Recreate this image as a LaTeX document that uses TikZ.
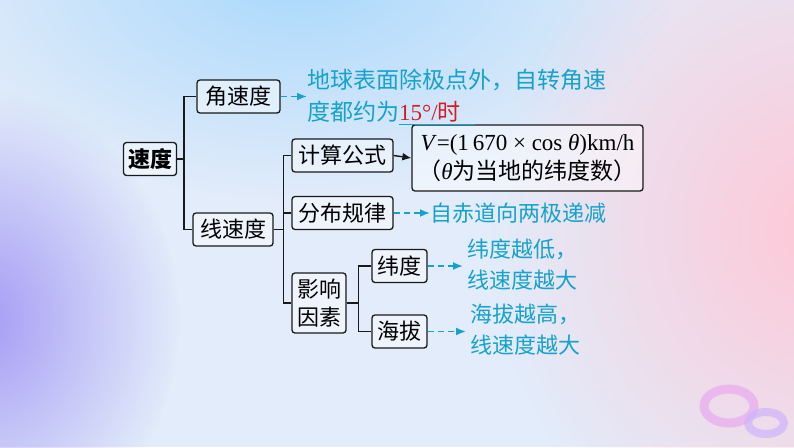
\documentclass[tikz,border=0pt]{standalone}
\usepackage{fontspec}
\setmainfont{Liberation Serif}
\newfontfamily\cjk{Noto Sans CJK SC}
\usetikzlibrary{
  arrows.meta,
  fadings
}
\definecolor{notecol}{RGB}{22,162,205}
\definecolor{redcol}{RGB}{215,25,40}
\definecolor{ringa}{RGB}{232,170,240}
\definecolor{ringb}{RGB}{205,180,250}
\definecolor{bgbase}{RGB}{226,236,250}
\definecolor{bgsky}{RGB}{168,216,252}
\definecolor{bgviolet}{RGB}{165,155,245}
\definecolor{bgpink}{RGB}{255,200,215}
\tikzfading[name=blobfade, inner color=transparent!0, outer color=transparent!100]

\begin{document}
\begin{tikzpicture}[
  x=1pt, y=-1pt,
  box/.style={draw=black!90, line width=1.3pt, rounded corners=3pt,
    fill=white, fill opacity=0.45, text opacity=1,
    font=\cjk\fontsize{22}{26}\selectfont, inner sep=2pt, minimum height=33},
  note/.style={anchor=west, text=notecol, align=left,
    font=\cjk\fontsize{22}{31}\selectfont, inner sep=0pt},
  branch/.style={line width=1.4pt, black!90},
  dashlink/.style={-{Latex[length=10pt,width=8pt]}, dash pattern=on 6pt off 4pt,
    notecol, line width=1.8pt},
]
\useasboundingbox (0,0) rectangle (794,447);
\fill[bgbase] (0,0) rectangle (794,447);
\fill[bgsky, path fading=blobfade] (300,-30) ellipse (380 and 230);
\fill[bgviolet, path fading=blobfade] (-20,320) ellipse (200 and 230);
\fill[bgpink, path fading=blobfade] (820,230) ellipse (330 and 360);
\draw[ringa, opacity=0.7, line width=9pt] (729,406) ellipse (25 and 17);
\draw[ringb, opacity=0.7, line width=8pt] (766,423) ellipse (18 and 11);

\node[box, minimum width=53, font=\cjk\bfseries\fontsize{22}{26}\selectfont] (sudu) at (150,159) {速度};
\node[box, minimum width=83] (jiao) at (238.5,96.5) {角速度};
\node[box, minimum width=80] (xian) at (233,229.5) {线速度};
\node[box, minimum width=101] (jisuan) at (342.5,155.5) {计算公式};
\node[box, minimum width=101] (fenbu) at (342.5,213) {分布规律};
\node[box, minimum width=54, minimum height=60, align=center,
  font=\cjk\fontsize{22}{28}\selectfont] (yingxiang) at (319,303) {影响\\因素};
\node[box, minimum width=55] (weidu) at (399.5,266) {纬度};
\node[box, minimum width=55] (haiba) at (399.5,331.5) {海拔};
\node[box, minimum width=231, minimum height=66, align=center,
  font=\fontsize{23}{29}\selectfont] (gongshi) at (527.5,158)
  {\textit{V}=(1\,670 × cos \textit{θ})km/h\\{\cjk （}\textit{θ}{\cjk 为当地的纬度数）}};

\node[note, font=\cjk\fontsize{23}{32}\selectfont] (jiaonote) at (307,97)
  {地球表面除极点外，自转角速\\度都约为\underline{\textcolor{redcol}{\fontspec{Liberation Serif}15°/}\textcolor{redcol}{时}\hspace{0.6em}}};
\node[note] (fenbunote) at (430,213) {自赤道向两极递减};
\node[note] (weidunote) at (467,265) {纬度越低，\\线速度越大};
\node[note] (haibanote) at (470,330) {海拔越高，\\线速度越大};

\draw[branch] (sudu.east) -- ++(7,0) |- (jiao.west);
\draw[branch] (sudu.east) -- ++(7,0) |- (xian.west);
\draw[branch] (xian.east) -- ++(10,0) |- (jisuan.west);
\draw[branch] (xian.east) -- ++(10,0) |- (fenbu.west);
\draw[branch] (xian.east) -- ++(10,0) |- (yingxiang.west);
\draw[branch] (yingxiang.east) -- ++(12,0) |- (weidu.west);
\draw[branch] (yingxiang.east) -- ++(12,0) |- (haiba.west);
\draw[branch, -{Latex[length=9pt,width=8pt]}] (jisuan.east) -- (gongshi.west);

\draw[dashlink] (jiao.east) -- (jiaonote.west |- jiao.east);
\draw[dashlink] (fenbu.east) -- (fenbunote.west);
\draw[dashlink] (weidu.east) -- ([xshift=-4pt]weidunote.west |- weidu.east);
\draw[dashlink] (haiba.east) -- ([xshift=-4pt]haibanote.west |- haiba.east);
\end{tikzpicture}
\end{document}
